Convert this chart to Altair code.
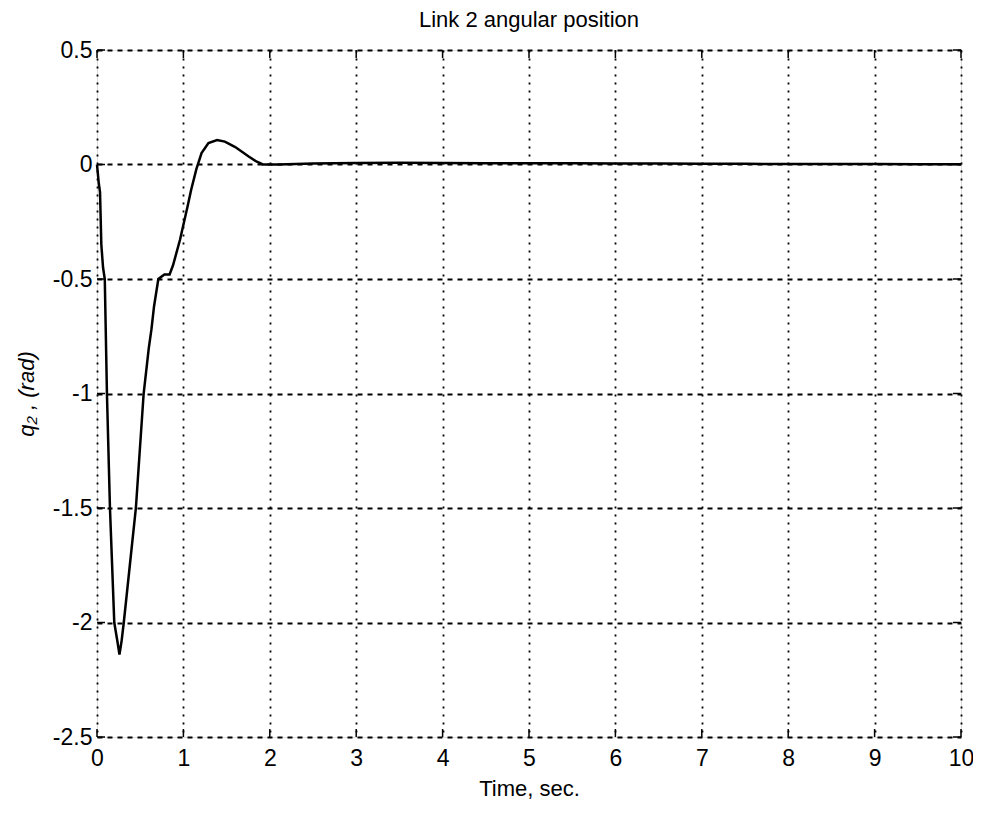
import altair as alt
import pandas as pd

# data
time_s = [0.0, 0.02, 0.035, 0.05, 0.07, 0.09, 0.115, 0.15, 0.2, 0.235, 0.26, 0.285,
          0.31, 0.38, 0.45, 0.54, 0.6, 0.63, 0.66, 0.71, 0.78, 0.84, 0.88, 0.96,
          1.05, 1.09, 1.15, 1.21, 1.29, 1.39, 1.48, 1.6, 1.76, 1.85, 1.92, 2.1,
          2.5, 3.0, 3.5, 4.0, 4.5, 5.0, 5.5, 6.0, 6.5, 7.0, 7.5, 8.0, 8.5, 9.0, 9.5, 10.0]
q2_rad = [0.0, -0.08, -0.12, -0.35, -0.45, -0.5, -1.0, -1.5, -2.0, -2.08, -2.14, -2.08,
          -2.0, -1.75, -1.5, -1.0, -0.8, -0.72, -0.62, -0.5, -0.48, -0.48, -0.44, -0.33,
          -0.18, -0.11, -0.02, 0.05, 0.094, 0.107, 0.1, 0.076, 0.034, 0.012, 0.0, 0.0,
          0.004, 0.007, 0.008, 0.007, 0.006, 0.005, 0.005, 0.004, 0.004, 0.003, 0.003,
          0.002, 0.002, 0.002, 0.001, 0.001]
x_ticks = [0, 1, 2, 3, 4, 5, 6, 7, 8, 9, 10]
y_ticks = [0.5, 0, -0.5, -1, -1.5, -2, -2.5]

FONT = "Liberation Sans"
W, H = 864, 687

df = pd.DataFrame({"t": time_s, "q": q2_rad})
xt = pd.DataFrame({"t": x_ticks})
yt = pd.DataFrame({"q": y_ticks})

xscale = alt.Scale(domain=[0, 10], nice=False, zero=False)
yscale = alt.Scale(domain=[-2.5, 0.5], nice=False, zero=False)

common = dict(grid=True, gridColor="black", gridWidth=1.8, gridOpacity=1, tickSize=0,
              labelFontSize=23, titleFontSize=22, titleFontWeight="normal",
              labelFont=FONT, titleFont=FONT, labelColor="black", titleColor="black",
              domain=False, labelFlush=False, labelExpr="'' + datum.value")

line = alt.Chart(df).mark_line(color="black", strokeWidth=2.5, interpolate="linear").encode(
    x=alt.X("t:Q", scale=xscale,
            axis=alt.Axis(title="Time, sec.", values=x_ticks, gridDash=[2, 6],
                          labelPadding=10, titlePadding=8, **common)),
    y=alt.Y("q:Q", scale=yscale,
            axis=alt.Axis(title="q₂ , (rad)", values=y_ticks, gridDash=[5, 5],
                          labelPadding=5, titlePadding=14, titleFontStyle="italic",
                          **common)),
)

tk = 8
xt_bot = alt.Chart(xt).mark_rule(color="black", strokeWidth=1.5).encode(
    x=alt.X("t:Q", scale=xscale), y=alt.value(H), y2=alt.value(H - tk))
xt_top = alt.Chart(xt).mark_rule(color="black", strokeWidth=1.5).encode(
    x=alt.X("t:Q", scale=xscale), y=alt.value(0), y2=alt.value(tk))
yt_l = alt.Chart(yt).mark_rule(color="black", strokeWidth=1.5).encode(
    y=alt.Y("q:Q", scale=yscale), x=alt.value(0), x2=alt.value(tk))
yt_r = alt.Chart(yt).mark_rule(color="black", strokeWidth=1.5).encode(
    y=alt.Y("q:Q", scale=yscale), x=alt.value(W), x2=alt.value(W - tk))

chart = alt.layer(line, xt_bot, xt_top, yt_l, yt_r).properties(
    width=W, height=H,
    title=alt.TitleParams("Link 2 angular position", font=FONT, fontSize=22,
                          fontWeight="normal", color="black", offset=7),
    autosize=alt.AutoSizeParams(type="none"),
    padding={"left": 89, "top": 42, "right": 12, "bottom": 70},
).configure_view(stroke="black", strokeWidth=2).configure(background="white")

chart.save("out.html", embed_options={"renderer": "svg", "actions": False})
